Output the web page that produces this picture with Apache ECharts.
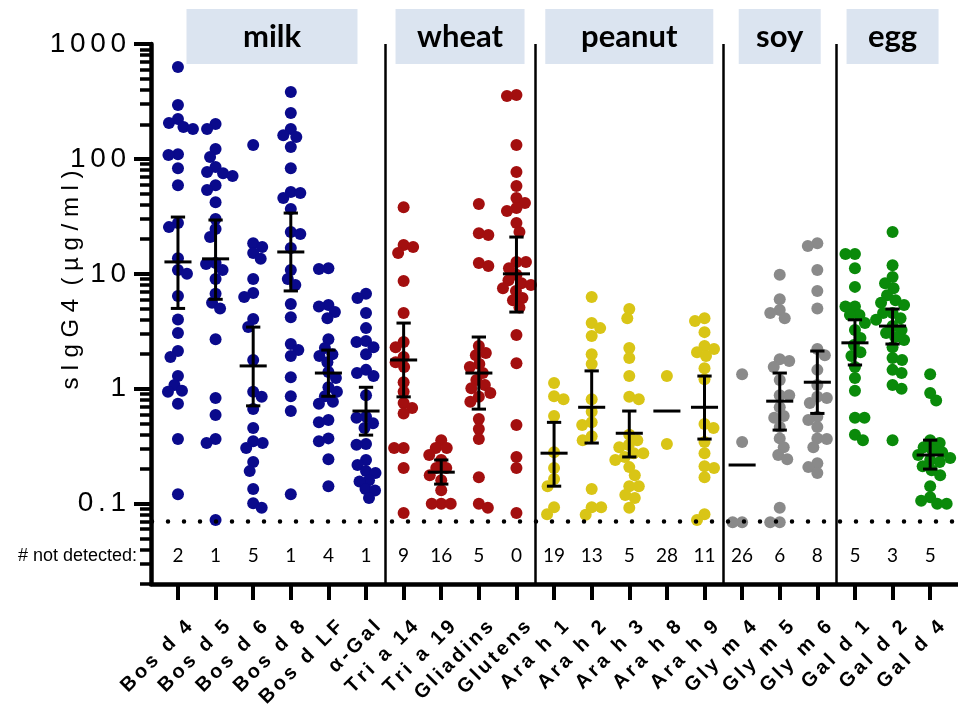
<!DOCTYPE html>
<html>
<head>
<meta charset="utf-8">
<script src="https://cdn.jsdelivr.net/npm/echarts@6/dist/echarts.min.js"></script>
<style>
  html, body { margin: 0; padding: 0; background: #fff; }
  #chart { width: 958px; height: 705px; }
</style>
</head>
<body>
<div id="chart"></div>
<script>
// Allergen components, in plotting order
const categories = ['Bos d 4', 'Bos d 5', 'Bos d 6', 'Bos d 8', 'Bos d LF', 'α-Gal',
  'Tri a 14', 'Tri a 19', 'Gliadins', 'Glutens',
  'Ara h 1', 'Ara h 2', 'Ara h 3', 'Ara h 8', 'Ara h 9',
  'Gly m 4', 'Gly m 5', 'Gly m 6',
  'Gal d 1', 'Gal d 2', 'Gal d 4'];

// Food groups (header boxes) and how many components each holds
const groups = ['milk', 'wheat', 'peanut', 'soy', 'egg'];
const groupSizes = [6, 4, 5, 3, 3];

// Number of samples below detection per component
const notDetected = [2, 1, 5, 1, 4, 1, 9, 16, 5, 0, 19, 13, 5, 28, 11, 26, 6, 8, 5, 3, 5];

// Detection limit (µg/ml)
const detectionLimit = 0.069;

// sIgG4 levels (µg/ml) per component
const bosD4 = [630, 294, 222, 205, 190, 182, 110, 108, 83, 59, 27.7, 25.5, 13.7, 10.8, 10, 6.4, 4.0, 3.05, 2.13, 1.89, 1.29, 1.08, 0.96, 0.94, 0.74, 0.365, 0.121];
const bosD5 = [201, 182, 122, 104, 85, 77, 75, 71, 59, 53.6, 42, 30, 24.5, 20.9, 12.4, 12.2, 10.8, 9.0, 6.7, 5.6, 5.0, 2.7, 0.83, 0.59, 0.365, 0.337, 0.072];
const bosD6 = [132, 18.5, 17.1, 15.2, 13.5, 9.0, 6.8, 6.3, 4.05, 3.44, 1.78, 0.94, 0.85, 0.665, 0.455, 0.35, 0.337, 0.305, 0.23, 0.192, 0.134, 0.101, 0.092];
const bosD8 = [382, 251, 182, 161, 155, 127, 83, 51.5, 50.5, 45.7, 36.6, 23.1, 22.2, 16.8, 10.8, 9.0, 8.0, 5.46, 4.2, 2.45, 2.17, 1.93, 1.26, 0.86, 0.64, 0.121];
const bosDLF = [11.2, 11, 5.35, 5.2, 4.65, 4.1, 2.7, 2.26, 2.0, 1.93, 1.7, 1.4, 1.24, 1.03, 0.94, 0.86, 0.77, 0.74, 0.535, 0.51, 0.37, 0.35, 0.244, 0.142];
const alphaGal = [6.7, 6.15, 4.56, 3.37, 2.6, 2.55, 2.3, 2.0, 1.46, 1.37, 1.29, 0.88, 0.57, 0.56, 0.5, 0.455, 0.33, 0.325, 0.24, 0.217, 0.192, 0.185, 0.16, 0.156, 0.134, 0.13, 0.112];
const triA14 = [38, 17.8, 17.1, 15.2, 8.65, 4.56, 2.55, 2.3, 1.89, 1.7, 1.55, 1.14, 0.94, 0.75, 0.68, 0.61, 0.305, 0.305, 0.204, 0.083];
const triA19 = [0.357, 0.305, 0.305, 0.265, 0.24, 0.204, 0.204, 0.177, 0.16, 0.131, 0.1, 0.1, 0.1];
const gliadins = [40.5, 22.6, 21.8, 12.4, 11.7, 2.35, 2.05, 1.96, 1.64, 1.55, 1.37, 1.19, 1.08, 1.01, 0.92, 0.85, 0.77, 0.545, 0.446, 0.365, 0.17, 0.1, 0.092];
const glutens = [360, 352, 132, 77, 58, 45.7, 41.3, 37.4, 35.2, 27.7, 23.1, 12.7, 12.7, 11.2, 9.8, 8.8, 8.3, 8.0, 7.5, 7.1, 6.15, 5.9, 5.1, 2.93, 1.67, 0.483, 0.255, 0.204, 0.083];
const araH1 = [1.12, 0.86, 0.81, 0.58, 0.28, 0.204, 0.164, 0.142, 0.093, 0.081];
const araH2 = [6.3, 3.73, 3.37, 2.88, 2.0, 1.64, 0.81, 0.63, 0.51, 0.483, 0.387, 0.357, 0.134, 0.093, 0.093, 0.08];
const araH3 = [4.94, 4.1, 2.26, 1.85, 1.29, 0.85, 0.81, 0.398, 0.357, 0.324, 0.31, 0.275, 0.275, 0.255, 0.24, 0.208, 0.177, 0.142, 0.142, 0.119, 0.112, 0.092];
const araH8 = [1.29, 0.33];
const araH9 = [4.1, 3.88, 3.11, 2.35, 2.22, 2.08, 1.93, 1.51, 1.21, 0.493, 0.455, 0.344, 0.275, 0.212, 0.204, 0.17, 0.081, 0.072];
const glyM4 = [1.34, 0.344, 0.069, 0.069];
const glyM5 = [9.8, 6.0, 4.84, 4.56, 4.1, 1.81, 1.74, 1.55, 1.19, 0.88, 0.88, 0.69, 0.58, 0.56, 0.465, 0.37, 0.31, 0.265, 0.244, 0.092, 0.069, 0.069];
const glyM6 = [18.5, 17.5, 10.8, 7.1, 5.0, 2.22, 1.96, 1.46, 1.08, 0.85, 0.83, 0.75, 0.57, 0.535, 0.465, 0.37, 0.365, 0.31, 0.225, 0.208, 0.185];
const galD1 = [14.9, 14.9, 11.2, 7.7, 5.2, 5.2, 4.38, 4.38, 3.73, 3.24, 2.76, 2.4, 2.08, 1.93, 1.55, 1.24, 0.96, 0.56, 0.56, 0.398, 0.357];
const galD2 = [23.1, 11.9, 9.4, 8.3, 7.5, 6.5, 5.9, 5.6, 5.35, 4.56, 4.56, 4.1, 3.98, 3.51, 3.24, 3.05, 2.82, 2.65, 2.3, 1.85, 1.78, 1.46, 1.37, 1.08, 1.0, 0.357];
const galD4 = [1.34, 0.92, 0.79, 0.357, 0.337, 0.31, 0.29, 0.28, 0.265, 0.25, 0.24, 0.23, 0.212, 0.195, 0.177, 0.142, 0.114, 0.106, 0.1, 0.1];

const levels = [bosD4, bosD5, bosD6, bosD8, bosDLF, alphaGal, triA14, triA19, gliadins, glutens,
  araH1, araH2, araH3, araH8, araH9, glyM4, glyM5, glyM6, galD1, galD2, galD4];

// Central value and interval per component (null = no interval drawn)
const centre = [12.7, 13.5, 1.58, 15.5, 1.37, 0.64, 1.78, 0.188, 1.37, 10, 0.275, 0.69, 0.41, 0.64, 0.69, 0.217, 0.78, 1.14, 2.51, 3.51, 0.265];
const lower = [5.0, 6.0, 0.71, 7.1, 0.86, 0.395, 0.85, 0.148, 0.665, 4.65, 0.142, 0.337, 0.255, null, 0.365, null, 0.437, 0.61, 1.61, 2.45, 0.2];
const upper = [31.2, 29.4, 3.44, 33.8, 2.17, 1.03, 3.73, 0.24, 2.82, 20.9, 0.51, 1.43, 0.64, null, 1.29, null, 1.37, 2.13, 3.98, 4.94, 0.357];

// Y axis decades
const yMajor = [0.1, 1, 10, 100, 1000];

// ---- styling ----
const groupColors = ['#0a0a8c', '#a30f0f', '#d9c516', '#8a8a8a', '#0a8a0a'];
const headerWidths = [171, 129, 168, 82, 92];
const DOT = 12;
const MIN_GAP = 9.5;

const spaced = (s, sep) => String(s).split('').join(sep);

// group index of every component, and group spans
const groupOf = [];
const groupSpans = [];
{
  let start = 0;
  groupSizes.forEach((n, g) => {
    for (let k = 0; k < n; k++) groupOf.push(g);
    groupSpans.push([start, start + n - 1]);
    start += n;
  });
}
const dividers = groupSpans.slice(0, -1).map(s => s[1] + 0.5);

// minor ticks 2..9 within every decade of the axis range
const yMinor = [];
for (let e = -2; e <= 2; e++) {
  for (let m = 2; m <= 9; m++) {
    const v = +(m * Math.pow(10, e)).toPrecision(3);
    if (v >= 0.02 && v <= 1000) yMinor.push(v);
  }
}

const catIdx = categories.map((c, i) => i);
const LABEL_SHIFT = 0.3;

function scatterData(offsets) {
  return groups.map((g, gi) => {
    const pts = [];
    levels.forEach((vals, i) => {
      if (groupOf[i] !== gi) return;
      vals.forEach((v, k) => pts.push([i + (offsets ? offsets[i][k] : 0), v]));
    });
    return pts;
  });
}

function buildOption(offsets) {
  const data = scatterData(offsets);
  return {
    animation: false,
    backgroundColor: '#ffffff',
    grid: { left: 151, right: 0, top: 44, bottom: 121, containLabel: false, outerBoundsMode: 'none' },
    xAxis: {
      type: 'value', min: -0.717, max: 20.74,
      axisLine: { show: true, onZero: false, lineStyle: { color: '#000', width: 4.5 } },
      axisTick: { show: true, customValues: catIdx, length: 16, lineStyle: { color: '#000', width: 4 } },
      axisLabel: {
        show: true, customValues: catIdx.map(i => i + LABEL_SHIFT), rotate: 45, margin: 40,
        formatter: v => spaced(categories[Math.round(v - LABEL_SHIFT)], '\u2006'),
        color: '#000', fontFamily: 'Liberation Sans', fontWeight: 'bold', fontSize: 20
      },
      splitLine: { show: false }
    },
    yAxis: [{
      type: 'log', logBase: 10, min: 0.02, max: 1000,
      axisLine: { show: true, onZero: false, lineStyle: { color: '#000', width: 4.5 } },
      axisTick: { show: true, customValues: yMajor, length: 17, lineStyle: { color: '#000', width: 4 } },
      axisLabel: {
        show: true, customValues: yMajor, margin: 25,
        formatter: v => spaced(v, '\u2006'),
        color: '#000', fontFamily: 'Liberation Sans', fontSize: 28
      },
      splitLine: { show: false }
    }, {
      type: 'log', logBase: 10, min: 0.02, max: 1000, position: 'left',
      axisLine: { show: false, onZero: false },
      axisTick: { show: true, customValues: yMinor, length: 11, lineStyle: { color: '#000', width: 3.5 } },
      axisLabel: { show: false },
      splitLine: { show: false }
    }],
    graphic: [{
      type: 'text', x: 71, y: 280, rotation: Math.PI / 2,
      style: {
        text: 's I g G 4  ( µ g / m l )', fill: '#000',
        font: '24px "Liberation Sans"', align: 'center', verticalAlign: 'middle'
      }
    }, {
      type: 'text', x: 137, y: 556,
      style: {
        text: '# not detected:', fill: '#000',
        font: '18px "Liberation Sans"', align: 'right', verticalAlign: 'middle'
      }
    }],
    series: [
      // group dividers and detection limit
      {
        id: 'guides', type: 'scatter', data: [[0, detectionLimit]], symbolSize: 0, silent: true,
        markLine: {
          silent: true, symbol: ['none', 'none'], label: { show: false }, animation: false,
          data: dividers.map(x => ({ xAxis: x, lineStyle: { type: 'solid', color: '#000', width: 2.5 } }))
            .concat([{ yAxis: detectionLimit, lineStyle: { type: [0, 16], dashOffset: -1, cap: 'round', color: '#000', width: 4.5 } }])
        },
        z: 1
      },
      // header boxes
      {
        id: 'headers', type: 'custom', silent: true, clip: false,
        data: groups.map((g, gi) => [(groupSpans[gi][0] + groupSpans[gi][1]) / 2, gi]),
        renderItem: (params, api) => {
          const gi = api.value(1);
          const p = api.coord([api.value(0), 1000]);
          const w = headerWidths[gi];
          return {
            type: 'group', children: [
              { type: 'rect', shape: { x: p[0] - w / 2, y: p[1] - 35, width: w, height: 55 }, style: { fill: '#dbe4f0' } },
              { type: 'text', x: p[0], y: p[1] - 7, style: { text: groups[gi], fill: '#000', font: 'bold 31px Lato', align: 'center', verticalAlign: 'middle' } }
            ]
          };
        },
        z: 2
      },
      // individual measurements
      ...groups.map((g, gi) => ({
        id: 'dots-' + g, name: g, type: 'scatter', data: data[gi],
        symbol: 'circle', symbolSize: DOT,
        itemStyle: { color: groupColors[gi], opacity: 1 },
        z: 3
      })),
      // central value with interval
      {
        id: 'bars', type: 'custom', silent: true,
        data: centre.map((c, i) => [i, c]),
        renderItem: (params, api) => {
          const i = api.value(0);
          const c = api.value(1);
          const style = { stroke: '#000', lineWidth: 3, fill: null };
          const mL = api.coord([i - 0.36, c]);
          const mR = api.coord([i + 0.36, c]);
          const children = [{ type: 'line', shape: { x1: mL[0], y1: mL[1], x2: mR[0], y2: mR[1] }, style }];
          if (lower[i] != null && upper[i] != null) {
            const lo = api.coord([i, lower[i]]);
            const hi = api.coord([i, upper[i]]);
            const capW = api.coord([i + 0.19, 1])[0] - api.coord([i, 1])[0];
            children.push({ type: 'line', shape: { x1: lo[0], y1: lo[1], x2: hi[0], y2: hi[1] }, style });
            children.push({ type: 'line', shape: { x1: lo[0] - capW, y1: lo[1], x2: lo[0] + capW, y2: lo[1] }, style });
            children.push({ type: 'line', shape: { x1: hi[0] - capW, y1: hi[1], x2: hi[0] + capW, y2: hi[1] }, style });
          }
          return { type: 'group', children };
        },
        z: 4
      },
      // counts below detection
      {
        id: 'counts', type: 'custom', silent: true,
        data: notDetected.map((n, i) => [i, n]),
        renderItem: (params, api) => {
          const p = api.coord([api.value(0), 0.035]);
          return { type: 'text', x: p[0], y: p[1], style: { text: String(api.value(1)), fill: '#000', font: '19px Lato', align: 'center', verticalAlign: 'middle' } };
        },
        z: 4
      }
    ]
  };
}

const chart = echarts.init(document.getElementById('chart'), null, { renderer: 'canvas' });
chart.setOption(buildOption(null));

// spread overlapping points sideways (beeswarm), measured in screen pixels
const unitPx = chart.convertToPixel({ xAxisIndex: 0 }, 1) - chart.convertToPixel({ xAxisIndex: 0 }, 0);
function swarmOffsets(values) {
  const pts = values.map((v, k) => ({ k, y: chart.convertToPixel({ yAxisIndex: 0 }, v) }));
  pts.sort((a, b) => a.y - b.y);
  const placed = [];
  const out = new Array(values.length).fill(0);
  pts.forEach((p, n) => {
    const sign = n % 2 ? -1 : 1;
    let off = 0;
    for (let s = 0; s < 400; s++) {
      const cand = s === 0 ? 0 : sign * (s % 2 ? 1 : -1) * Math.ceil(s / 2) * 0.5;
      if (placed.every(q => (q.x - cand) * (q.x - cand) + (q.y - p.y) * (q.y - p.y) >= MIN_GAP * MIN_GAP)) { off = cand; break; }
    }
    placed.push({ x: off, y: p.y });
    out[p.k] = off / unitPx;
  });
  return out;
}
const offsets = levels.map(swarmOffsets);
chart.setOption(buildOption(offsets));
</script>
</body>
</html>
